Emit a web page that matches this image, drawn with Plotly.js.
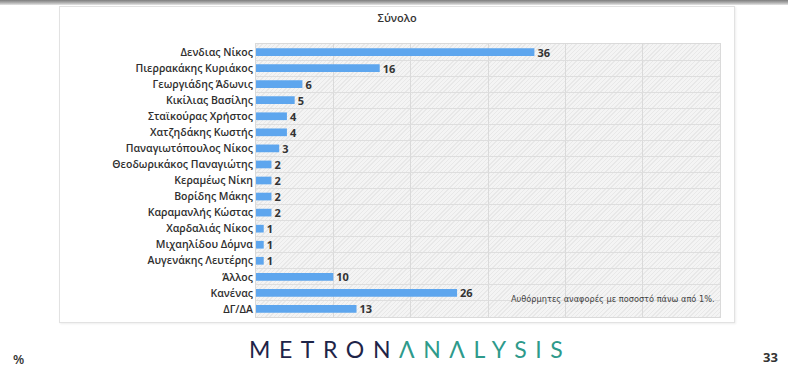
<!DOCTYPE html>
<html>
<head>
<meta charset="utf-8">
<script src="https://cdn.plot.ly/plotly-3.0.1.min.js"></script>
<style>
  html, body { margin: 0; padding: 0; background: #ffffff; }
  #wrap { position: relative; width: 788px; height: 367px; overflow: hidden; background: #fff; }
  #topbar { position: absolute; left: 0; top: 0; width: 788px; height: 5px;
            background: linear-gradient(#7d7d7d, #b5b5b5 60%, #e6e6e6); }
  #card { position: absolute; left: 59px; top: 6px; width: 674px; height: 315px;
          border: 1px solid #e2e2e2; box-shadow: 1px 1px 2px #eeeeee; background: #fff; }
  #plotbg { position: absolute; left: 256px; top: 44px; width: 464px; height: 273px;
            background-color: #f4f4f4;
            background-image: repeating-linear-gradient(-45deg, rgba(224,224,224,0.6) 0px, rgba(224,224,224,0.6) 1px, transparent 1px, transparent 3px); }
  #chart { position: absolute; left: 0; top: 0; width: 788px; height: 367px; }
  #logo { position: absolute; left: 249px; top: 336px; font-family: Lato, "Open Sans", sans-serif;
          font-weight: 400; font-size: 23px; letter-spacing: 8.6px; white-space: nowrap; line-height: 26px; }
  #logo .a { color: #1e2448; }
  #logo .b { color: #2e9a8b; }
  #pct { position: absolute; left: 13px; top: 350px; font-family: "Open Sans", sans-serif; font-size: 13px; color: #333; font-weight: 600; }
  #page { position: absolute; left: 763px; top: 348px; font-family: "Open Sans", sans-serif; font-size: 13px; color: #333; font-weight: 700; }
</style>
</head>
<body>
<div id="wrap">
  <div id="topbar"></div>
  <div id="card"></div>
  <div id="plotbg"></div>
  <div id="chart"></div>
  <div id="logo"><span class="a">METRON</span><span class="b">ΛNΛLYSIS</span></div>
  <div id="pct">%</div>
  <div id="page">33</div>
</div>
<script>
const categories = [
  "Δενδιας Νίκος",
  "Πιερρακάκης Κυριάκος",
  "Γεωργιάδης Άδωνις",
  "Κικίλιας Βασίλης",
  "Σταϊκούρας Χρήστος",
  "Χατζηδάκης Κωστής",
  "Παναγιωτόπουλος Νίκος",
  "Θεοδωρικάκος Παναγιώτης",
  "Κεραμέως Νίκη",
  "Βορίδης Μάκης",
  "Καραμανλής Κώστας",
  "Χαρδαλιάς Νίκος",
  "Μιχαηλίδου Δόμνα",
  "Αυγενάκης Λευτέρης",
  "Άλλος",
  "Κανένας",
  "ΔΓ/ΔΑ"
];
const values = [36, 16, 6, 5, 4, 4, 3, 2, 2, 2, 2, 1, 1, 1, 10, 26, 13];
const chartTitle = "Σύνολο";
const noteText = "Αυθόρμητες αναφορές με ποσοστό πάνω από 1%.";

const trace = {
  type: "bar",
  orientation: "h",
  y: categories,
  x: values,
  marker: { color: "#5ea6ee" },
  text: values.map(String),
  textposition: "outside",
  constraintext: "none",
  textfont: { family: "Open Sans, sans-serif", size: 11, color: "#333333", weight: 700 },
  cliponaxis: false,
  hoverinfo: "skip"
};

const layout = {
  width: 788,
  height: 367,
  margin: { l: 256, r: 68, t: 44, b: 50, pad: 0 },
  paper_bgcolor: "rgba(0,0,0,0)",
  plot_bgcolor: "rgba(0,0,0,0)",
  showlegend: false,
  bargap: 0.52,
  title: {
    text: chartTitle,
    x: 0.504, xanchor: "center",
    y: 0.951, yanchor: "middle",
    font: { family: "Open Sans, sans-serif", size: 11, color: "#333333", weight: 600 }
  },
  xaxis: {
    range: [0, 60],
    dtick: 10,
    tick0: 0,
    showticklabels: false,
    ticks: "",
    showgrid: true,
    gridcolor: "#dadada",
    gridwidth: 1,
    zeroline: false,
    showline: true,
    linecolor: "#dadada",
    mirror: true,
    fixedrange: true
  },
  yaxis: {
    type: "category",
    autorange: "reversed",
    tickson: "boundaries",
    showgrid: true,
    gridcolor: "#dedede",
    gridwidth: 1,
    ticks: "outside",
    ticklen: 11,
    tickcolor: "rgba(0,0,0,0)",
    tickfont: { family: "Open Sans, sans-serif", size: 10.5, color: "#2e2e2e", weight: 600 },
    showline: true,
    linecolor: "#dadada",
    mirror: true,
    fixedrange: true
  },
  annotations: [{
    text: noteText,
    xref: "paper", yref: "paper",
    x: 0.993, xanchor: "right",
    y: 0.066, yanchor: "middle",
    showarrow: false,
    font: { family: "DejaVu Sans, sans-serif", size: 8.2, color: "#444444" }
  }]
};

Plotly.newPlot("chart", [trace], layout, { staticPlot: true, displayModeBar: false });
</script>
</body>
</html>
